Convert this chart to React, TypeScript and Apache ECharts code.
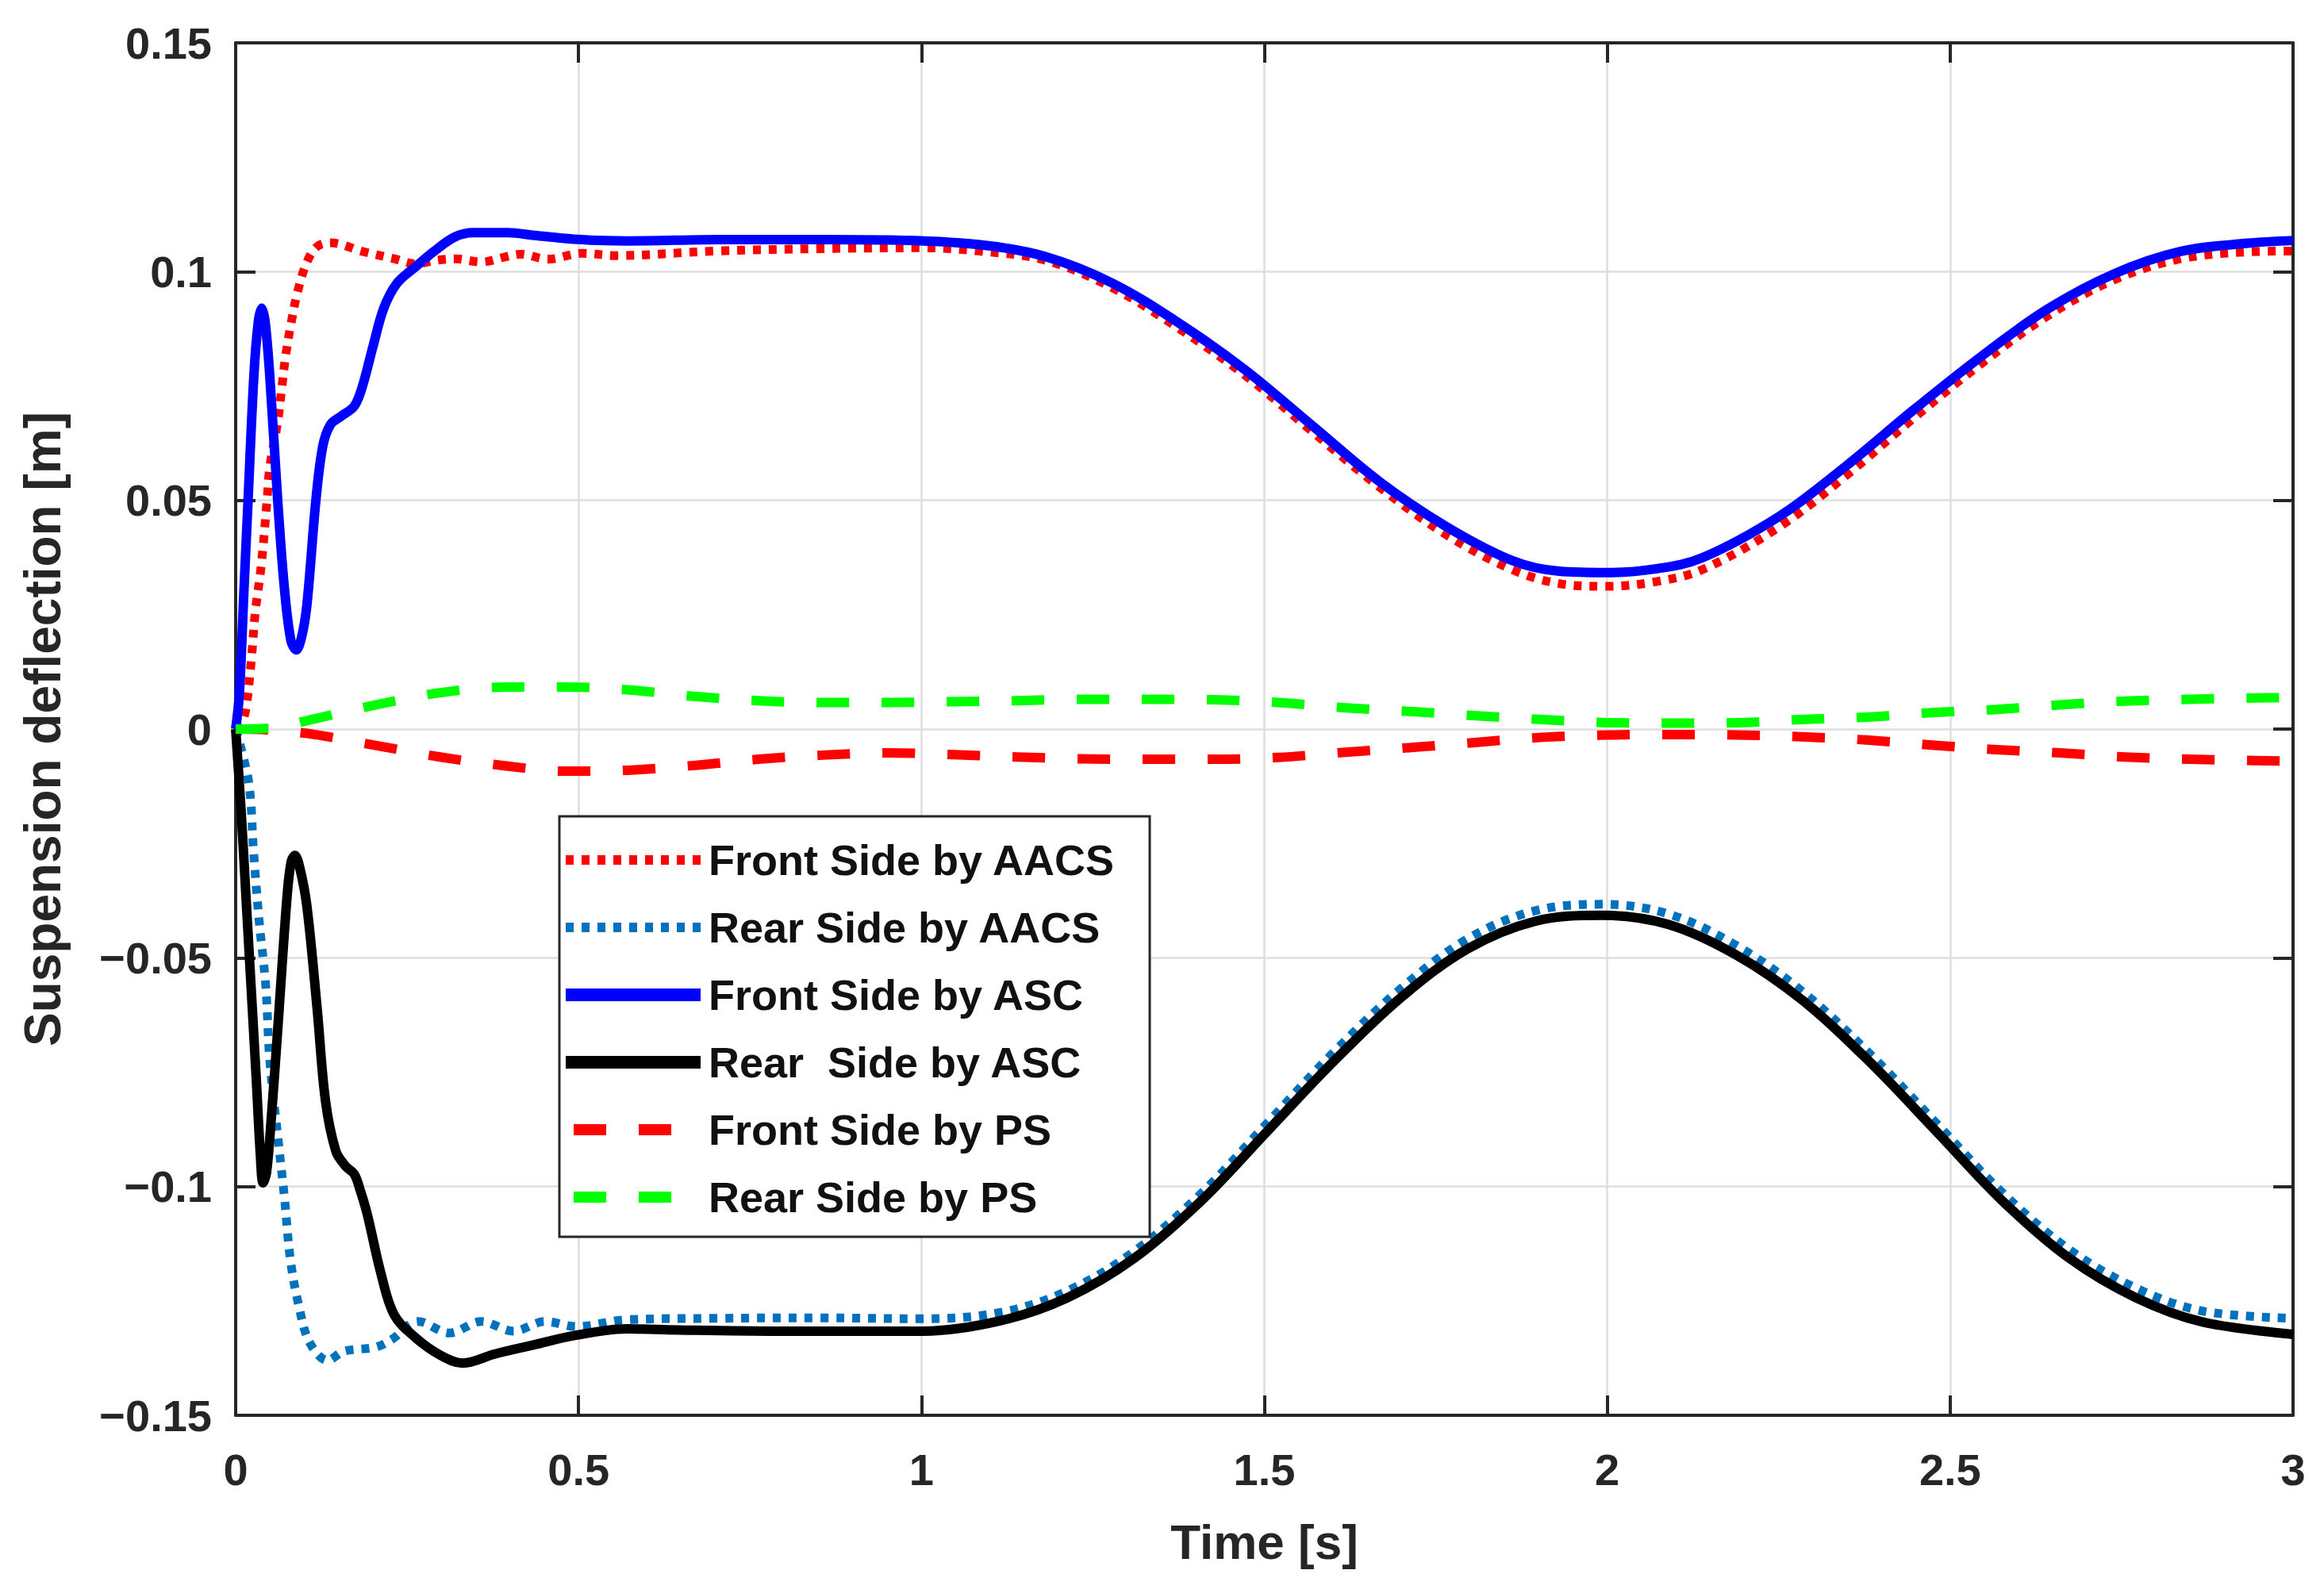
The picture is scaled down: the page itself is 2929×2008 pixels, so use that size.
import React, { useEffect, useRef } from "react";
import * as echarts from "echarts";

const FONT = '"Liberation Sans", Arial, Helvetica, sans-serif';

// X axis ticks and Y axis ticks
const xTicks = [0, 0.5, 1, 1.5, 2, 2.5, 3];
const yTicks = [-0.15, -0.1, -0.05, 0, 0.05, 0.1, 0.15];

const seriesNames = [
  "Front Side by AACS",
  "Rear Side by AACS",
  "Front Side by ASC",
  "Rear  Side by ASC",
  "Front Side by PS",
  "Rear Side by PS",
];

// Front Side by AACS (red dotted)
const frontAacsT = [0, 0.008, 0.015, 0.0228, 0.0285, 0.0374, 0.0459, 0.0497, 0.0613, 0.067, 0.0729, 0.0806, 0.0902, 0.1037, 0.119, 0.138, 0.185, 0.231, 0.262, 0.293, 0.32, 0.358, 0.393, 0.416, 0.455, 0.505, 0.555, 0.7, 0.85, 1.0, 1.083, 1.18, 1.278, 1.375, 1.473, 1.57, 1.667, 1.765, 1.862, 1.93, 2.0, 2.07, 2.138, 2.252, 2.349, 2.447, 2.544, 2.641, 2.739, 2.836, 2.934, 3.0];
const frontAacsV = [0, 0.001, 0.0045, 0.015, 0.0254, 0.0359, 0.0503, 0.0572, 0.0672, 0.0742, 0.0816, 0.0885, 0.0955, 0.102, 0.1055, 0.1063, 0.1044, 0.1028, 0.1017, 0.1025, 0.1028, 0.1021, 0.1032, 0.1038, 0.1027, 0.104, 0.1035, 0.1045, 0.105, 0.1052, 0.1045, 0.1025, 0.0965, 0.0876, 0.0772, 0.065, 0.053, 0.0425, 0.0348, 0.0318, 0.0312, 0.0322, 0.0348, 0.0443, 0.0555, 0.068, 0.0797, 0.0902, 0.0982, 0.1028, 0.1043, 0.1045];

// Rear Side by AACS (blue dotted)
const rearAacsT = [0, 0.019, 0.026, 0.034, 0.044, 0.0497, 0.063, 0.071, 0.08, 0.092, 0.1076, 0.134, 0.158, 0.204, 0.227, 0.266, 0.312, 0.358, 0.405, 0.451, 0.497, 0.57, 0.7, 0.85, 1.0, 1.116, 1.213, 1.31, 1.408, 1.505, 1.602, 1.7, 1.797, 1.895, 1.992, 2.089, 2.187, 2.284, 2.381, 2.479, 2.576, 2.674, 2.771, 2.868, 3.0];
const rearAacsV = [0, -0.0116, -0.0265, -0.0415, -0.0564, -0.0723, -0.0912, -0.1022, -0.1162, -0.126, -0.134, -0.138, -0.136, -0.1351, -0.1335, -0.1295, -0.132, -0.1295, -0.1316, -0.1295, -0.1306, -0.1291, -0.1288, -0.1287, -0.1289, -0.1275, -0.1228, -0.1142, -0.1015, -0.086, -0.0705, -0.0566, -0.0458, -0.0397, -0.0383, -0.0404, -0.0472, -0.0573, -0.0707, -0.086, -0.1013, -0.1138, -0.1222, -0.1272, -0.1288];

// Front Side by ASC (blue solid)
const frontAscT = [0, 0.0054, 0.012, 0.0181, 0.0266, 0.033, 0.038, 0.043, 0.0497, 0.0613, 0.071, 0.0806, 0.0883, 0.096, 0.1038, 0.117, 0.127, 0.138, 0.154, 0.173, 0.185, 0.2, 0.216, 0.235, 0.262, 0.289, 0.32, 0.347, 0.397, 0.436, 0.493, 0.57, 0.71, 0.85, 0.953, 1.083, 1.18, 1.278, 1.375, 1.473, 1.57, 1.667, 1.765, 1.862, 1.93, 2.0, 2.07, 2.138, 2.252, 2.349, 2.447, 2.544, 2.641, 2.739, 2.836, 2.934, 3.0];
const frontAscV = [0, 0.0076, 0.03, 0.05, 0.0773, 0.089, 0.092, 0.089, 0.0773, 0.05, 0.0309, 0.0193, 0.0173, 0.02, 0.027, 0.05, 0.0618, 0.0665, 0.0684, 0.0706, 0.075, 0.0835, 0.092, 0.0974, 0.101, 0.1044, 0.1076, 0.1085, 0.1085, 0.1079, 0.1071, 0.1067, 0.107, 0.107, 0.1069, 0.1059, 0.1033, 0.0975, 0.0888, 0.0784, 0.0663, 0.0542, 0.0443, 0.0368, 0.0345, 0.0342, 0.035, 0.0374, 0.0466, 0.0576, 0.0698, 0.0813, 0.0917, 0.0995, 0.1044, 0.1062, 0.1068];

// Rear Side by ASC (black solid)
const rearAscT = [0, 0.008, 0.015, 0.03, 0.036, 0.04, 0.045, 0.052, 0.061, 0.075, 0.081, 0.0864, 0.093, 0.1037, 0.119, 0.131, 0.146, 0.16, 0.173, 0.182, 0.192, 0.212, 0.231, 0.262, 0.3, 0.331, 0.378, 0.435, 0.493, 0.57, 0.629, 0.791, 1.002, 1.116, 1.213, 1.31, 1.408, 1.505, 1.602, 1.7, 1.797, 1.895, 1.992, 2.089, 2.187, 2.284, 2.381, 2.479, 2.576, 2.674, 2.771, 2.868, 3.0];
const rearAscV = [0, -0.018, -0.0365, -0.0763, -0.093, -0.0992, -0.097, -0.085, -0.0664, -0.0365, -0.029, -0.0276, -0.03, -0.0385, -0.0614, -0.0813, -0.0922, -0.0955, -0.0973, -0.101, -0.1061, -0.1191, -0.128, -0.133, -0.137, -0.1386, -0.1366, -0.1346, -0.1326, -0.1311, -0.1313, -0.1316, -0.1316, -0.1293, -0.1243, -0.1157, -0.1031, -0.0878, -0.0725, -0.0586, -0.048, -0.042, -0.0407, -0.0427, -0.0493, -0.0592, -0.0725, -0.0878, -0.1031, -0.1157, -0.1243, -0.1296, -0.1323];

// Front Side by PS (red dashed)
const frontPsT = [0, 0.05, 0.115, 0.209, 0.302, 0.397, 0.478, 0.571, 0.665, 0.762, 0.855, 0.953, 1.047, 1.14, 1.232, 1.33, 1.425, 1.52, 1.614, 1.717, 1.81, 1.905, 2.0, 2.097, 2.19, 2.284, 2.378, 2.474, 2.568, 2.66, 2.755, 2.849, 2.945, 3.0];
const frontPsV = [0, -0.0002, -0.0012, -0.0037, -0.0062, -0.0081, -0.0092, -0.009, -0.008, -0.0066, -0.0057, -0.0052, -0.0056, -0.0061, -0.0065, -0.0066, -0.0066, -0.0062, -0.0051, -0.004, -0.0029, -0.0018, -0.0013, -0.0012, -0.0013, -0.0017, -0.0024, -0.0035, -0.0045, -0.0052, -0.0061, -0.0066, -0.0069, -0.007];

// Rear Side by PS (green dashed)
const rearPsT = [0, 0.05, 0.115, 0.208, 0.301, 0.397, 0.478, 0.571, 0.665, 0.762, 0.855, 0.953, 1.047, 1.14, 1.232, 1.33, 1.425, 1.52, 1.614, 1.717, 1.81, 1.905, 2.0, 2.097, 2.19, 2.284, 2.378, 2.474, 2.568, 2.66, 2.755, 2.849, 2.945, 3.0];
const rearPsV = [0, 0.0002, 0.00225, 0.0054, 0.008, 0.0092, 0.0092, 0.0086, 0.0072, 0.0062, 0.0058, 0.0058, 0.006, 0.0062, 0.0065, 0.0065, 0.0064, 0.0058, 0.0047, 0.0038, 0.0029, 0.0021, 0.0014, 0.0013, 0.0014, 0.0021, 0.0026, 0.0036, 0.0043, 0.0053, 0.0061, 0.0065, 0.0068, 0.0069];

const zip = (t: number[], v: number[]) => t.map((x, i) => [x, v[i]]);

const AX = "#262626";

function fmtY(v: number) {
  const r = Math.round(v * 100) / 100;
  if (r === 0) return "0";
  return r < 0 ? "\u2212" + String(-r) : String(r);
}
function fmtX(v: number) {
  return String(Math.round(v * 10) / 10);
}

export default function App() {
  const ref = useRef<HTMLDivElement>(null);
  useEffect(() => {
    if (!ref.current) return;
    const chart = echarts.init(ref.current, undefined, { renderer: "svg" });
    const xMin = xTicks[0];
    const xMax = xTicks[xTicks.length - 1];
    const yMin = yTicks[0];
    const yMax = yTicks[yTicks.length - 1];
    const xInt = xTicks[1] - xTicks[0];
    const yInt = 0.05;

    const tickStyle = { show: true, inside: true, length: 25, lineStyle: { color: AX, width: 4 } };
    const axisLine = { show: true, onZero: false, lineStyle: { color: AX, width: 4 } };
    const labelStyle = { fontFamily: FONT, fontWeight: "bold" as const, fontSize: 56, color: AX };

    const styles = [
      { color: "#ff0000", width: 11, type: [10, 10] as any, legendWidth: 12, offset: 0 },
      { color: "#0072bd", width: 11, type: [10, 10] as any, legendWidth: 12, offset: 0 },
      { color: "#0000ff", width: 12, type: "solid" as any, legendWidth: 16, offset: 0 },
      { color: "#000000", width: 12, type: "solid" as any, legendWidth: 16, offset: 0 },
      { color: "#ff0000", width: 12, type: [41, 41] as any, legendWidth: 14, offset: 72 },
      { color: "#00ff00", width: 12, type: [41, 41] as any, legendWidth: 14, offset: 72 },
    ];
    const datas = [
      zip(frontAacsT, frontAacsV),
      zip(rearAacsT, rearAacsV),
      zip(frontAscT, frontAscV),
      zip(rearAscT, rearAscV),
      zip(frontPsT, frontPsV),
      zip(rearPsT, rearPsV),
    ];

    const series = seriesNames.map((name, i) => ({
      name,
      type: "line",
      data: datas[i],
      xAxisIndex: 0,
      yAxisIndex: 0,
      showSymbol: false,
      symbol: "none",
      smooth: 0.35,
      z: 2 + i,
      lineStyle: { color: styles[i].color, width: styles[i].width, type: styles[i].type, cap: "butt", join: "round" },
      itemStyle: { color: styles[i].color },
    }));

    const legendData = seriesNames.map((name, i) => ({
      name,
      itemStyle: { opacity: 0 },
      lineStyle: {
        color: styles[i].color,
        width: styles[i].legendWidth,
        type: styles[i].type,
        dashOffset: styles[i].offset,
        cap: "butt",
        opacity: 1,
      },
    }));

    chart.setOption({
      animation: false,
      backgroundColor: "#ffffff",
      grid: { left: 289, top: 46, width: 2593, height: 1730, containLabel: false },
      xAxis: [
        {
          type: "value",
          position: "bottom",
          min: xMin,
          max: xMax,
          interval: xInt,
          name: "Time [s]",
          nameLocation: "middle",
          nameGap: 128,
          nameTextStyle: { fontFamily: FONT, fontWeight: "bold", fontSize: 62, color: AX },
          axisLine,
          axisTick: tickStyle,
          axisLabel: { ...labelStyle, margin: 40, formatter: fmtX },
          splitLine: { show: true, lineStyle: { color: "#dedede", width: 2.5 } },
        },
        {
          type: "value",
          position: "top",
          min: xMin,
          max: xMax,
          interval: xInt,
          axisLine,
          axisTick: tickStyle,
          axisLabel: { show: false },
          splitLine: { show: false },
        },
      ],
      yAxis: [
        {
          type: "value",
          position: "left",
          min: yMin,
          max: yMax,
          interval: yInt,
          name: "Suspension deflection [m]",
          nameLocation: "middle",
          nameGap: 211,
          nameTextStyle: { fontFamily: FONT, fontWeight: "bold", fontSize: 64, color: AX },
          axisLine,
          axisTick: tickStyle,
          axisLabel: { ...labelStyle, margin: 30, formatter: fmtY },
          splitLine: { show: true, lineStyle: { color: "#dedede", width: 2.5 } },
        },
        {
          type: "value",
          position: "right",
          min: yMin,
          max: yMax,
          interval: yInt,
          axisLine,
          axisTick: tickStyle,
          axisLabel: { show: false },
          splitLine: { show: false },
        },
      ],
      legend: {
        show: true,
        orient: "vertical",
        left: 697,
        top: 1021,
        data: legendData,
        itemWidth: 170,
        itemHeight: 20,
        itemGap: 25,
        padding: [25, 43, 20, 0],
        backgroundColor: "#ffffff",
        borderColor: AX,
        borderWidth: 3,
        borderRadius: 0,
        selectedMode: false,
        itemStyle: { opacity: 0 },
        textStyle: {
          fontFamily: FONT,
          fontWeight: "bold",
          fontSize: 54,
          color: "#111111",
          lineHeight: 60,
          padding: [0, 0, 0, 5],
        },
      },
      series,
    });
    return () => chart.dispose();
  }, []);
  return <div ref={ref} style={{ width: 2913, height: 1992 }} />;
}
